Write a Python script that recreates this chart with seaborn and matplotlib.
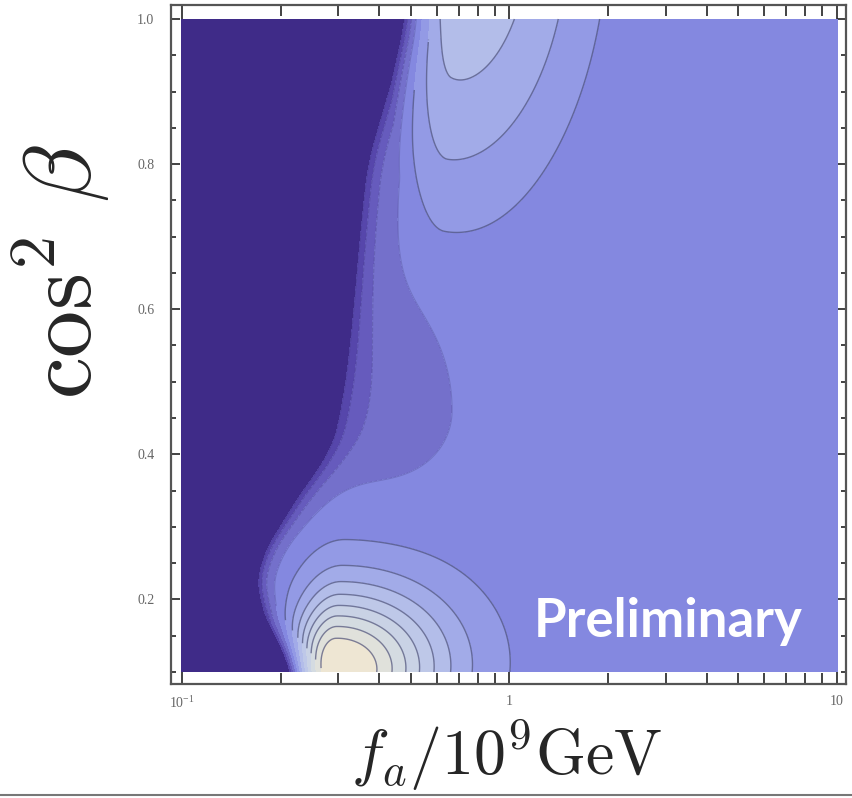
import numpy as np
import matplotlib
matplotlib.use("Agg")
import matplotlib.pyplot as plt
import seaborn as sns
from matplotlib.lines import Line2D

sns.set_theme(style="ticks")
plt.rcParams["mathtext.fontset"] = "cm"
plt.rcParams["font.family"] = ["Liberation Serif", "DejaVu Serif"]

# contour bands, darkest (excluded) region -> cream peak
levels = [-1000, -3, -2, -1, 0, 1, 2, 3, 4, 5, 6, 7, 8, 1000]
band_colors = ["#3f2b88", "#5646ab", "#665bbd", "#7470cb", "#8488e0", "#939ae5",
               "#a2abe8", "#b3bde9", "#bec8e8", "#c9d2e5", "#d4dbe1", "#e0e1db", "#eee6d3"]
line_levels = [1, 2, 3, 4, 5, 6, 7, 8]
edge_levels = [-3, -2, -1, 0]

# shape of the surface (u = log10 fa, y = cos^2 beta)
background = 0.5
peak_bottom = dict(u=-0.54, y=0.10, amp=9.0, su_l=0.09, su_r=0.225, sy=0.078, shear=0.2)
peak_top = dict(u=-0.16, y=1.10, amp=4.3, su_l=0.2, su_r=0.52, sy=0.458, shear=0.1)
dip = dict(u=-0.40, y=0.46, amp=-1.0, su=0.19, sy_up=0.13, sy_dn=0.08)
wall_y = [0.10, 0.15, 0.20, 0.25, 0.30, 0.365, 0.40, 0.50, 0.60, 0.80, 1.00]
wall_u = [-0.56, -0.67, -0.73, -0.73, -0.65, -0.55, -0.49, -0.45, -0.42, -0.37, -0.24]
wall_w = [0.05, 0.035, 0.03, 0.03, 0.04, 0.05, 0.05, 0.05, 0.05, 0.05, 0.05]

x_ticks = [0.1, 1, 10]
x_ticklabels = [r"$\mathregular{10^{-1}}$", "1", "10"]
x_minor = [0.2, 0.3, 0.4, 0.5, 0.6, 0.7, 0.8, 0.9, 2, 3, 4, 5, 6, 7, 8, 9]
y_ticks = [0.2, 0.4, 0.6, 0.8, 1.0]
y_ticklabels = ["0.2", "0.4", "0.6", "0.8", "1.0"]
y_minor = [0.1, 0.15, 0.25, 0.3, 0.35, 0.45, 0.5, 0.55, 0.65, 0.7, 0.75, 0.85, 0.9, 0.95]

u = np.linspace(-1, 1, 700)
y = np.linspace(0.1, 1.0, 600)
U, Y = np.meshgrid(u, y)

# bottom peak: gaussian, steeper on the small-fa side
p = peak_bottom
du = U - p["u"] - p["shear"] * (Y - p["y"])
su = np.where(du < 0, p["su_l"], p["su_r"])
P_bot = p["amp"] * np.exp(-0.5 * ((du / su) ** 2 + ((Y - p["y"]) / p["sy"]) ** 2))

# top peak: cone-like, centre above the frame
p = peak_top
du = U - p["u"] - p["shear"] * (Y - p["y"])
su = np.where(du < 0, p["su_l"], p["su_r"])
r = np.sqrt((du / su) ** 2 + ((Y - p["y"]) / p["sy"]) ** 2)
P_top = p["amp"] * np.clip(1 - r, 0, None)

sy_dip = np.where(Y > dip["y"], dip["sy_up"], dip["sy_dn"])
P_dip = dip["amp"] * np.exp(-0.5 * (((U - dip["u"]) / dip["su"]) ** 2 + ((Y - dip["y"]) / sy_dip) ** 2))


def smooth(v, k=25):
    return np.convolve(np.pad(v, k, mode="edge"), np.ones(2 * k + 1) / (2 * k + 1), mode="same")[k:-k]


b = smooth(np.interp(y, wall_y, wall_u))
w = smooth(np.interp(y, wall_y, wall_w))
W = np.exp((b[:, None] - U) / w[:, None])

Z = np.maximum(background + P_bot + P_top + P_dip - W, -50)
X = 10 ** U

fig = plt.figure(figsize=(8.52, 7.98), dpi=100)
ax = fig.add_axes([171 / 852, 1 - 684 / 798, 675 / 852, 679 / 798])
ax.set_facecolor("white")

ax.contourf(X, Y, Z, levels=levels, colors=band_colors)
ax.contour(X, Y, np.ma.masked_where(W > 0.8, Z), levels=line_levels,
           colors="#4b4f7a", linewidths=1.0, alpha=0.7)
ax.contour(X, Y, np.ma.masked_where(P_bot > 0.5, Z), levels=edge_levels,
           colors="#3a3270", linewidths=0.8, alpha=0.25)

ax.set_xscale("log")
ax.set_xlim(10 ** (-1 - 11 / 328), 10 ** (1 + 9 / 328))
ax.set_ylim(0.1 - 12 / 725.6, 1.0 + 14 / 725.6)

ax.set_xticks(x_ticks)
ax.set_xticklabels(x_ticklabels)
ax.set_xticks(x_minor, minor=True)
ax.set_xticklabels([], minor=True)
ax.set_yticks(y_ticks)
ax.set_yticklabels(y_ticklabels)
ax.set_yticks(y_minor, minor=True)

ax.tick_params(which="both", direction="in", top=True, right=True,
               color="#222222", labelcolor="#666666", labelsize=10)
ax.tick_params(axis="x", which="major", length=15, width=1.2, pad=8)
ax.tick_params(axis="x", which="minor", length=8, width=1.2)
ax.tick_params(axis="y", which="major", length=6.5, width=1.2, pad=12)
ax.tick_params(axis="y", which="minor", length=3.5, width=1.2)
for s in ax.spines.values():
    s.set_color("#555555")
    s.set_linewidth(1.6)

fig.text(62 / 852, 1 - 272 / 798, r"$\cos^2\,\beta$", rotation=90,
         fontsize=68, ha="center", va="center")
fig.text(507 / 852, 1 - 755 / 798, r"$f_a/10^9\mathrm{GeV}$",
         fontsize=46, ha="center", va="center")
fig.text(803 / 852, 1 - 637 / 798, "Preliminary", color="white", fontsize=38,
         fontweight="bold", family=["Lato", "DejaVu Sans"],
         ha="right", va="baseline")

fig.add_artist(Line2D([0, 1], [1 - 795 / 798] * 2, color="#777777", lw=1.5,
                      transform=fig.transFigure))

fig.savefig("out.png", dpi=100)
